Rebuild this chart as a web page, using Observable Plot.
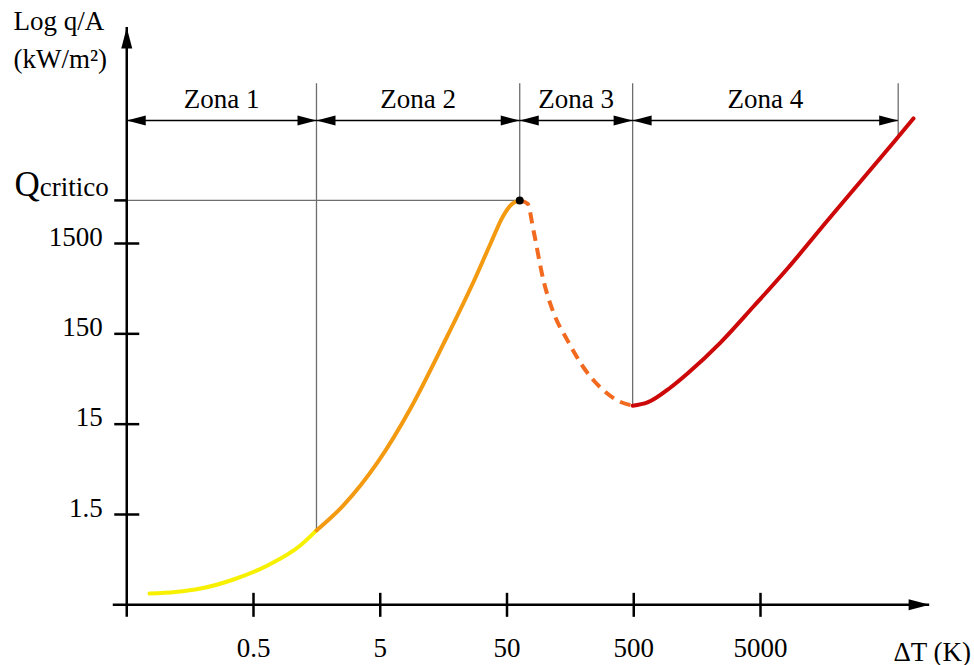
<!DOCTYPE html>
<html><head><meta charset="utf-8">
<script src="https://cdn.jsdelivr.net/npm/d3@7"></script>
<script src="https://cdn.jsdelivr.net/npm/@observablehq/plot@0.6"></script>
<style>body{margin:0;background:#fff}</style>
</head><body><div id="chart"></div>
<script>
// ---- data ----
const xTicks = [0.5, 5, 50, 500, 5000];
const xTickLabels = ["0.5", "5", "50", "500", "5000"];
const yTicks = [1.5, 15, 150, 1500];
const yTickLabels = ["1.5", "15", "150", "1500"];
const qCritico = 4500;
const peakDT = 63;
const originDT = 0.05, originQ = 0.15;
const axisXEndDT = 108000, axisYEndQ = 370000;

const zoneNames = ["Zona 1", "Zona 2", "Zona 3", "Zona 4"];
const zoneEdges = [0.05, 1.57, 63, 490, 61000];
const zoneEdgeQ = [0.15, 1.0, 4500, 24, 23000];
const zoneTopQ = 88000, zoneArrowQ = 34500, zoneLabelQ = 48000;

const zone1DT = [0.0756, 0.121, 0.191, 0.348, 0.645, 1.17, 1.57];
const zone1Q  = [0.200, 0.208, 0.227, 0.286, 0.409, 0.680, 1.0];
const zone2DT = [1.57, 2.56, 4.76, 8.66, 15.8, 28.7, 37.1, 46.9, 55.3, 63];
const zone2Q  = [1.0, 1.89, 5.65, 22.4, 117, 664, 1500, 3063, 4160, 4500];
const zone3DT = [63, 72.6, 80.9, 97, 116, 150, 201, 273, 372, 490];
const zone3Q  = [4500, 4160, 2090, 584, 260, 127, 63.6, 38.2, 27.4, 24];
const zone4DT = [490, 642, 975, 1328, 2417, 4404, 8166, 16890, 30760, 56000, 80550];
const zone4Q  = [24, 26.1, 38.2, 54.6, 120, 301, 793, 2696, 7287, 19690, 36310];

// ---- helpers ----
const FONT = "Liberation Serif";
const FS = 27;
const pts = (xs, ys) => xs.map((x, i) => ({x, y: ys[i]}));
const axisHead = {draw(c) { c.moveTo(0, 0); c.lineTo(-21, -5.5); c.lineTo(-21, 5.5); c.closePath(); }};
const zoneHead = {draw(c) { c.moveTo(0, 0); c.lineTo(-19, -5); c.lineTo(-19, 5); c.closePath(); }};
const vTick = {draw(c) { c.moveTo(0, -12); c.lineTo(0, 12); }};
const hTick = {draw(c) { c.moveTo(-12.5, 0); c.lineTo(12.5, 0); }};
const hTickLeft = {draw(c) { c.moveTo(-12.5, 0); c.lineTo(0, 0); }};
const originTick = {draw(c) { c.moveTo(0, 12); c.lineTo(0, 0); c.lineTo(-14, 0); }};

const zones = zoneNames.map((name, i) => ({name, x1: zoneEdges[i], x2: zoneEdges[i + 1]}));
const heads = zones.flatMap(z => [{x: z.x1, rot: 180}, {x: z.x2, rot: 0}]);
const edgeLines = zoneEdges.slice(1).map((x, i) => ({x, q: zoneEdgeQ[i + 1]}));
const textOpts = {fontFamily: FONT, fontSize: FS, fill: "black"};

const plot = Plot.plot({
  width: 974,
  height: 665,
  margin: 0,
  style: {background: "#fff", fontFamily: FONT, overflow: "visible"},
  x: {type: "log", domain: [0.5, 5000], range: [253, 760], axis: null},
  y: {type: "log", domain: [1.5, 1500], range: [514, 243], axis: null},
  marks: [
    // zone boundary lines
    Plot.ruleX(edgeLines, {x: "x", y1: "q", y2: zoneTopQ, stroke: "#6e6e6e", strokeWidth: 1.3}),
    Plot.ruleY([qCritico], {x1: originDT, x2: peakDT, stroke: "#6e6e6e", strokeWidth: 1.3}),
    // zone arrows
    Plot.ruleY(zones, {y: zoneArrowQ, x1: "x1", x2: "x2", stroke: "black", strokeWidth: 1.3}),
    Plot.dot(heads, {x: "x", y: zoneArrowQ, symbol: zoneHead, rotate: "rot", fill: "black", stroke: "none"}),
    Plot.text(zones, {x: z => Math.sqrt(z.x1 * z.x2), y: zoneLabelQ, text: "name", textAnchor: "middle", lineAnchor: "bottom", ...textOpts}),
    // curve
    Plot.line(pts(zone1DT, zone1Q), {x: "x", y: "y", stroke: "#f7f000", strokeWidth: 4, curve: "monotone-x"}),
    Plot.line(pts(zone2DT, zone2Q), {x: "x", y: "y", stroke: "#f39a10", strokeWidth: 4, curve: "monotone-x"}),
    Plot.line(pts(zone3DT, zone3Q), {x: "x", y: "y", stroke: "#f26a1f", strokeWidth: 4, strokeDasharray: "11,7", strokeLinecap: "butt", curve: "monotone-x"}),
    Plot.line(pts(zone4DT, zone4Q), {x: "x", y: "y", stroke: "#cc0808", strokeWidth: 4, curve: "monotone-x"}),
    Plot.dot([{x: peakDT, y: qCritico}], {x: "x", y: "y", r: 4, fill: "black"}),
    // axes
    Plot.ruleX([originDT], {y1: originQ, y2: axisYEndQ, stroke: "black", strokeWidth: 2.5}),
    Plot.ruleY([originQ], {x1: originDT, x2: axisXEndDT, stroke: "black", strokeWidth: 2.5}),
    Plot.dot([0], {x: originDT, y: axisYEndQ, symbol: axisHead, rotate: -90, fill: "black", stroke: "none"}),
    Plot.dot([0], {x: axisXEndDT, y: originQ, symbol: axisHead, rotate: 0, fill: "black", stroke: "none"}),
    Plot.dot([0], {x: originDT, y: originQ, symbol: originTick, fill: "none", stroke: "black", strokeWidth: 2.5}),
    Plot.dot(xTicks, {x: d => d, y: originQ, symbol: vTick, fill: "none", stroke: "black", strokeWidth: 2.5}),
    Plot.dot(yTicks, {x: originDT, y: d => d, symbol: hTick, fill: "none", stroke: "black", strokeWidth: 2.5}),
    Plot.dot([qCritico], {x: originDT, y: d => d, symbol: hTickLeft, fill: "none", stroke: "black", strokeWidth: 2.5}),
    // tick labels
    Plot.text(xTicks, {x: d => d, y: originQ, text: (d, i) => xTickLabels[i], textAnchor: "middle", lineAnchor: "bottom", dy: 52, ...textOpts}),
    Plot.text(yTicks, {x: originDT, y: d => d, text: (d, i) => yTickLabels[i], textAnchor: "end", lineAnchor: "bottom", dx: -24, dy: 2, ...textOpts}),
    Plot.text([qCritico], {x: originDT, y: d => d, text: () => "critico", textAnchor: "end", lineAnchor: "bottom", dx: -18, dy: -4, ...textOpts}),
    Plot.text([qCritico], {x: originDT, y: d => d, text: () => "Q", textAnchor: "end", lineAnchor: "bottom", dx: -87, dy: -4, fontFamily: FONT, fontSize: 35, fill: "black"}),
    // axis titles
    Plot.text(["Log q/A"], {frameAnchor: "top-left", dx: 13, dy: 29, textAnchor: "start", lineAnchor: "bottom", ...textOpts}),
    Plot.text(["(kW/m²)"], {frameAnchor: "top-left", dx: 13, dy: 67, textAnchor: "start", lineAnchor: "bottom", ...textOpts}),
    Plot.text(["ΔT (K)"], {frameAnchor: "top-left", dx: 893, dy: 660, textAnchor: "start", lineAnchor: "bottom", ...textOpts})
  ]
});
document.getElementById("chart").append(plot);
</script>
</body></html>
